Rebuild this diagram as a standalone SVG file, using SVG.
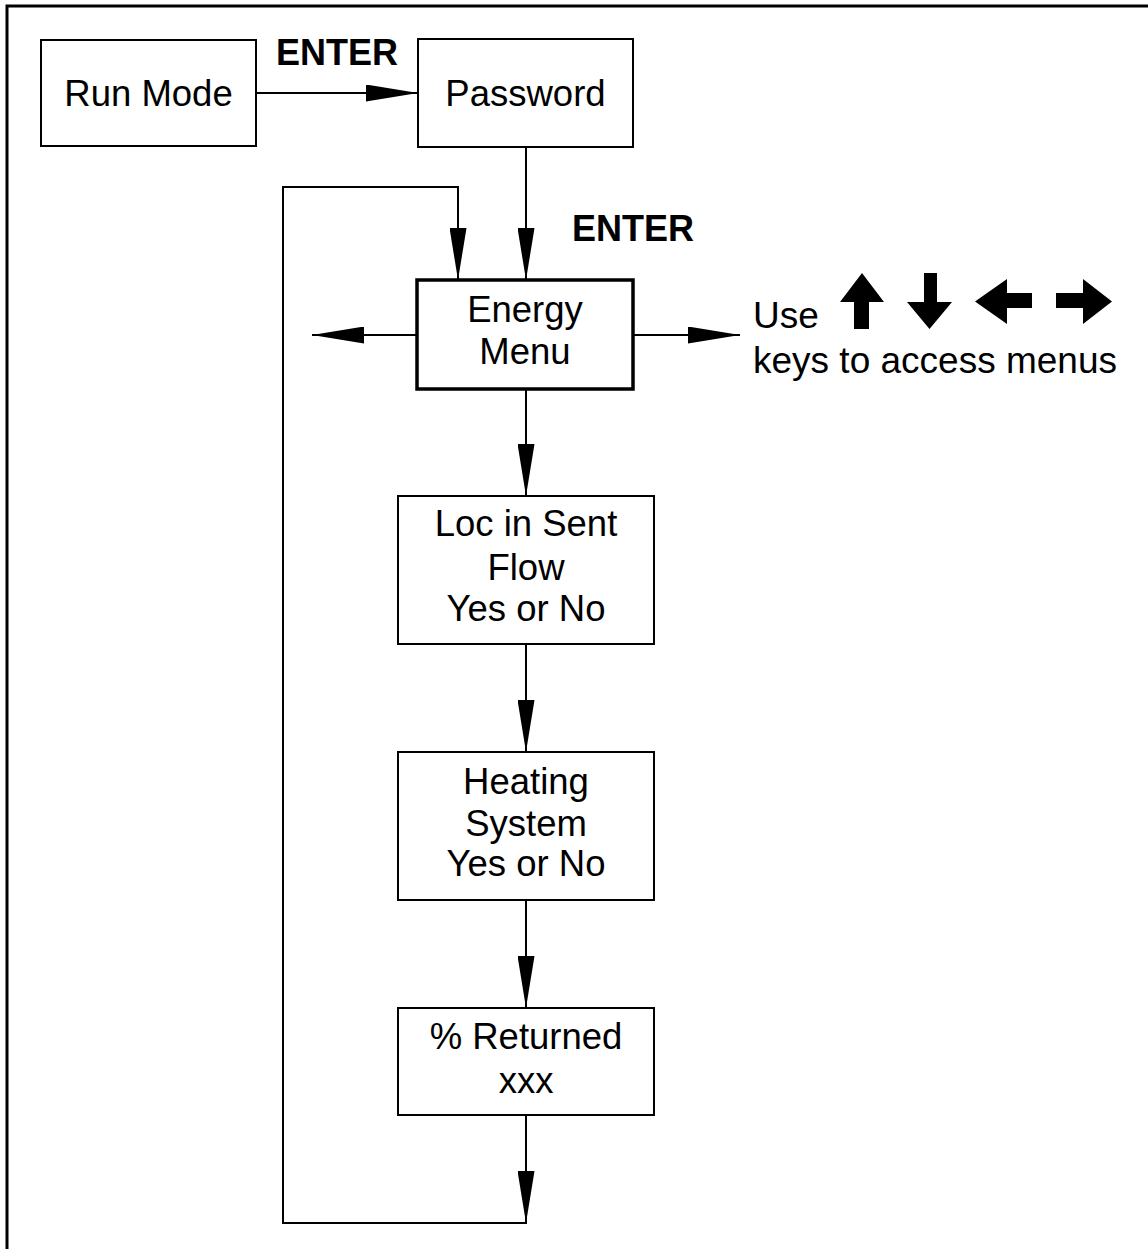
<svg xmlns="http://www.w3.org/2000/svg" width="1148" height="1249" viewBox="0 0 1148 1249">
<style>
.box{fill:#fff;stroke:#000;stroke-width:2}
.thick{fill:#fff;stroke:#000;stroke-width:3.5}
.t{font-family:"Liberation Sans",Arial,sans-serif;font-size:36.5px;fill:#000;text-anchor:middle}
.b{font-family:"Liberation Sans",Arial,sans-serif;font-size:36px;font-weight:bold;fill:#000}
.l{font-family:"Liberation Sans",Arial,sans-serif;font-size:37px;fill:#000}
.c{fill:none;stroke:#000;stroke-width:2}
</style>
<defs>
<marker id="ah" markerUnits="userSpaceOnUse" markerWidth="52" markerHeight="17" refX="52" refY="8.5" orient="auto" viewBox="0 0 52 17">
<path d="M0,0 L52,8.5 L0,17 z" fill="#000"/>
</marker>
</defs>
<rect width="1148" height="1249" fill="#fff"/>
<path d="M7,1249 V6 H1148" fill="none" stroke="#000" stroke-width="3"/>

<g id="connectors">
<line class="c" x1="256" y1="93" x2="418" y2="93" marker-end="url(#ah)"/>
<line class="c" x1="526" y1="147" x2="526" y2="280" marker-end="url(#ah)"/>
<path class="c" d="M526,1115 V1223 H283 V187 H458 V280" />
<line class="c" x1="526" y1="1115" x2="526" y2="1223" marker-end="url(#ah)"/>
<line class="c" x1="458" y1="187" x2="458" y2="280" marker-end="url(#ah)"/>
<line class="c" x1="417" y1="335" x2="312" y2="335" marker-end="url(#ah)"/>
<line class="c" x1="633" y1="335" x2="740" y2="335" marker-end="url(#ah)"/>
<line class="c" x1="526" y1="389" x2="526" y2="496" marker-end="url(#ah)"/>
<line class="c" x1="526" y1="644" x2="526" y2="752" marker-end="url(#ah)"/>
<line class="c" x1="526" y1="900" x2="526" y2="1008" marker-end="url(#ah)"/>
<text class="b" x="276" y="65">ENTER</text>
<text class="b" x="572" y="241">ENTER</text>
</g>

<g id="run-mode">
<rect class="box" x="41" y="40" width="215" height="106"/>
<text class="t" x="148.5" y="106">Run Mode</text>
</g>
<g id="password">
<rect class="box" x="418" y="39" width="215" height="108"/>
<text class="t" x="525.5" y="106">Password</text>
</g>
<g id="energy-menu">
<rect class="thick" x="417" y="280" width="216" height="109"/>
<text class="t" x="525" y="322">Energy</text>
<text class="t" x="525" y="364">Menu</text>
</g>
<g id="loc-in-sent">
<rect class="box" x="398" y="496" width="256" height="148"/>
<text class="t" x="526" y="536">Loc in Sent</text>
<text class="t" x="526" y="580">Flow</text>
<text class="t" x="526" y="621">Yes or No</text>
</g>
<g id="heating-system">
<rect class="box" x="398" y="752" width="256" height="148"/>
<text class="t" x="526" y="794">Heating</text>
<text class="t" x="526" y="836">System</text>
<text class="t" x="526" y="876">Yes or No</text>
</g>
<g id="percent-returned">
<rect class="box" x="398" y="1008" width="256" height="107"/>
<text class="t" x="526" y="1049">% Returned</text>
<text class="t" x="526" y="1093">xxx</text>
</g>
<g id="keys-note">
<text class="l" x="753" y="328">Use</text>
<text class="l" x="753" y="373">keys to access menus</text>
<path d="M840,302 L862,273 L884,302 H869 V329 H854 V302 z" fill="#000"/>
<path d="M924,273 H937 V302 H952 L929.5,329 L907,302 H924 z" fill="#000"/>
<path d="M975,301.5 L1007,279 V293 H1032 V308 H1007 V324 z" fill="#000"/>
<path d="M1112,301.5 L1083,279 V293 H1056 V308 H1083 V324 z" fill="#000"/>
</g>
</svg>
